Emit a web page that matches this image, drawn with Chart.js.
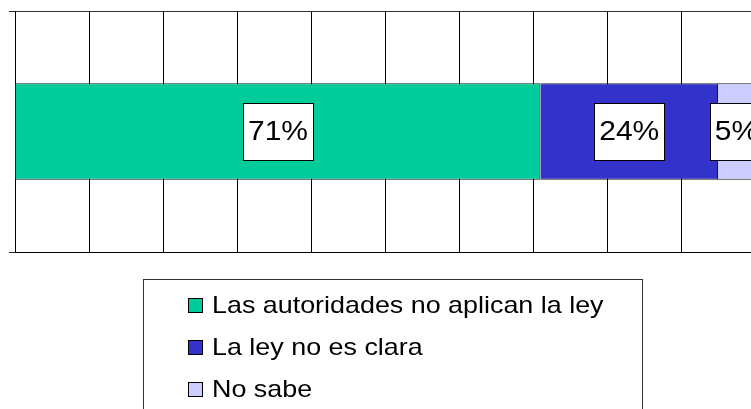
<!DOCTYPE html>
<html>
<head>
<meta charset="utf-8">
<script src="https://cdn.jsdelivr.net/npm/chart.js@4.4.1/dist/chart.umd.min.js"></script>
<style>
  html, body { margin: 0; padding: 0; background: #fff; overflow: hidden; }
  #wrap { width: 751px; height: 409px; overflow: hidden; }
</style>
</head>
<body>
<div id="wrap"><canvas id="razones" width="760" height="409"></canvas></div>
<script>
// Razones: por qué no se cumple la ley
const categorias = ['Total'];
const series = ['Las autoridades no aplican la ley', 'La ley no es clara', 'No sabe'];
const valores = [71, 24, 5];
const colores = ['#00CC99', '#3333CC', '#CCCCFF'];
const ticksX = [0, 10, 20, 30, 40, 50, 60, 70, 80, 90, 100];

const FONT = "'Liberation Sans', Arial, sans-serif";

// white boxes with the percentage centred on each segment
const etiquetas = {
    id: 'etiquetas',
    afterDatasetsDraw(chart) {
        const ctx = chart.ctx;
        ctx.save();
        ctx.font = '28px ' + FONT;
        ctx.textBaseline = 'middle';
        ctx.textAlign = 'center';
        chart.data.datasets.forEach((ds, i) => {
            const bar = chart.getDatasetMeta(i).data[0];
            const cx = (bar.x + bar.base) / 2;
            const cy = bar.y;
            const txt = ds.data[0] + '%';
            const sx = 1.07;
            const w = ctx.measureText(txt).width * sx + 10;
            const h = 57;
            const x0 = Math.round(cx - w / 2) + 0.5;
            const y0 = Math.round(cy - h / 2) + 0.5;
            ctx.fillStyle = '#fff';
            ctx.fillRect(x0, y0, Math.round(w), h);
            ctx.strokeStyle = '#000';
            ctx.lineWidth = 1;
            ctx.strokeRect(x0, y0, Math.round(w), h);
            ctx.save();
            ctx.translate(cx, cy + 1);
            ctx.scale(sx, 1);
            ctx.fillStyle = '#000';
            ctx.fillText(txt, 0, 0);
            ctx.restore();
        });
        ctx.restore();
    }
};

// boxed legend under the plot, one series per row
const leyenda = {
    id: 'leyenda',
    afterDraw(chart) {
        const ctx = chart.ctx;
        ctx.save();
        ctx.strokeStyle = '#333';
        ctx.lineWidth = 1;
        ctx.strokeRect(143.5, 279.5, 499, 150);
        ctx.font = '24px ' + FONT;
        ctx.textBaseline = 'alphabetic';
        ctx.textAlign = 'left';
        chart.data.datasets.forEach((ds, i) => {
            const y = 306 + i * 42;
            ctx.fillStyle = ds.backgroundColor;
            ctx.fillRect(188.5, y - 7.5, 14, 14);
            ctx.strokeStyle = '#000';
            ctx.strokeRect(188.5, y - 7.5, 14, 14);
            ctx.save();
            ctx.translate(212, y + 7);
            ctx.scale(1.12, 1);
            ctx.fillStyle = '#000';
            ctx.fillText(ds.label, 0, 0);
            ctx.restore();
        });
        ctx.restore();
    }
};

const datasets = series.map((nombre, i) => ({
    label: nombre,
    data: [valores[i]],
    backgroundColor: colores[i],
    borderColor: '#1a1a1a',
    borderWidth: { top: 1, bottom: 1, right: 1, left: 0 },
    borderSkipped: false,
    barPercentage: 1,
    categoryPercentage: 0.4
}));

new Chart(document.getElementById('razones'), {
    type: 'bar',
    data: { labels: categorias, datasets: datasets },
    options: {
        indexAxis: 'y',
        responsive: false,
        animation: false,
        layout: { padding: { top: 11, bottom: 157, left: 0, right: 5 } },
        plugins: {
            legend: { display: false },
            tooltip: { enabled: false }
        },
        scales: {
            x: {
                stacked: true,
                min: 0,
                max: 100,
                afterBuildTicks(scale) {
                    scale.ticks = ticksX.map(v => ({ value: v }));
                },
                afterFit(scale) { scale.height = 0; },
                ticks: { display: false },
                grid: { color: '#000', lineWidth: 1, drawTicks: false },
                border: { display: true, color: '#000' }
            },
            y: {
                stacked: true,
                afterFit(scale) { scale.width = 15; },
                ticks: { display: false },
                grid: { color: '#333', lineWidth: 1, tickLength: 6, offset: true },
                border: { display: true, color: '#000' }
            }
        }
    },
    plugins: [etiquetas, leyenda]
});
</script>
</body>
</html>
